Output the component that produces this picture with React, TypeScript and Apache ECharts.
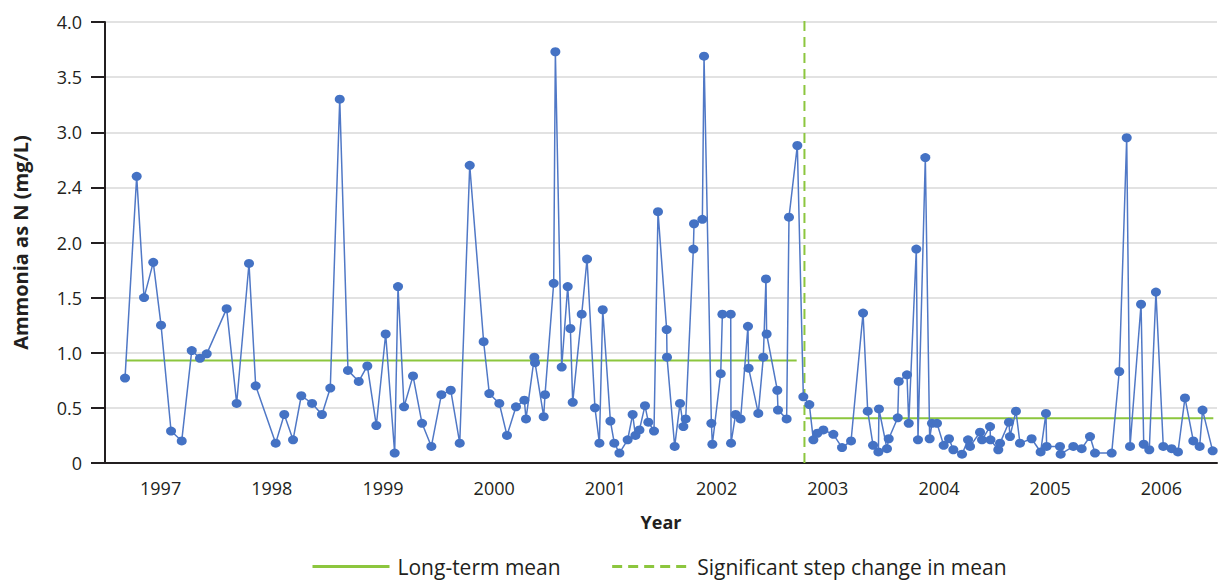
import { useEffect, useRef } from "react";
import * as echarts from "echarts";

// Year bands shown along the bottom axis
const yearLabels = ["1997", "1998", "1999", "2000", "2001", "2002", "2003", "2004", "2005", "2006"];

// Y tick labels as printed on the figure
const yTickLabels = ["0", "0.5", "1.0", "1.5", "2.0", "2.4", "3.0", "3.5", "4.0"];

// Sampling dates (decimal years)
const sampleTimes = [
  1997.18, 1997.285, 1997.351, 1997.434, 1997.504, 1997.594, 1997.69, 1997.78, 1997.854, 1997.915,
  1998.094, 1998.184, 1998.295, 1998.355, 1998.535, 1998.612, 1998.691, 1998.765, 1998.862, 1998.951,
  1999.026, 1999.111, 1999.185, 1999.282, 1999.359, 1999.44, 1999.524, 1999.605, 1999.635, 1999.689,
  1999.77, 1999.851, 1999.935, 2000.025, 2000.109, 2000.19, 2000.28, 2000.405, 2000.456, 2000.546,
  2000.615, 2000.696, 2000.771, 2000.786, 2000.861, 2000.867, 2000.945, 2000.957, 2001.035, 2001.05,
  2001.107, 2001.161, 2001.185, 2001.206, 2001.287, 2001.335, 2001.406, 2001.446, 2001.476, 2001.545,
  2001.58, 2001.626, 2001.7, 2001.745, 2001.77, 2001.806, 2001.856, 2001.886, 2001.937, 2001.973,
  2002.051, 2002.054, 2002.123, 2002.171, 2002.201, 2002.222, 2002.291, 2002.297, 2002.372, 2002.387,
  2002.453, 2002.462, 2002.537, 2002.552, 2002.627, 2002.63, 2002.671, 2002.716, 2002.782, 2002.788,
  2002.875, 2002.92, 2002.944, 2002.95, 2003.046, 2003.052, 2003.13, 2003.151, 2003.226, 2003.28,
  2003.334, 2003.37, 2003.406, 2003.46, 2003.55, 2003.628, 2003.709, 2003.817, 2003.859, 2003.907,
  2003.955, 2003.96, 2004.032, 2004.048, 2004.129, 2004.138, 2004.212, 2004.228, 2004.296, 2004.311,
  2004.377, 2004.416, 2004.437, 2004.482, 2004.542, 2004.59, 2004.629, 2004.707, 2004.761, 2004.779,
  2004.869, 2004.887, 2004.959, 2004.963, 2005.033, 2005.049, 2005.129, 2005.138, 2005.192, 2005.228,
  2005.333, 2005.414, 2005.462, 2005.468, 2005.588, 2005.594, 2005.708, 2005.783, 2005.858, 2005.903,
  2006.053, 2006.121, 2006.188, 2006.218, 2006.317, 2006.341, 2006.391, 2006.451, 2006.517, 2006.592,
  2006.649, 2006.712, 2006.787, 2006.844, 2006.87, 2006.961,
];

// Ammonia as N (mg/L) for each sample
const ammoniaN = [
  0.77, 2.6, 1.5, 1.82, 1.25, 0.29, 0.2, 1.02, 0.95, 0.99,
  1.4, 0.54, 1.81, 0.7, 0.18, 0.44, 0.21, 0.61, 0.54, 0.44,
  0.68, 3.3, 0.84, 0.74, 0.88, 0.34, 1.17, 0.09, 1.6, 0.51,
  0.79, 0.36, 0.15, 0.62, 0.66, 0.18, 2.7, 1.1, 0.63, 0.54,
  0.25, 0.51, 0.57, 0.4, 0.96, 0.91, 0.42, 0.62, 1.63, 3.73,
  0.87, 1.6, 1.22, 0.55, 1.35, 1.85, 0.5, 0.18, 1.39, 0.38,
  0.18, 0.09, 0.21, 0.44, 0.25, 0.3, 0.52, 0.37, 0.29, 2.28,
  1.21, 0.96, 0.15, 0.54, 0.33, 0.4, 1.94, 2.17, 2.21, 3.69,
  0.36, 0.17, 0.81, 1.35, 1.35, 0.18, 0.44, 0.4, 1.24, 0.86,
  0.45, 0.96, 1.67, 1.17, 0.66, 0.48, 0.4, 2.23, 2.88, 0.6,
  0.53, 0.21, 0.27, 0.3, 0.26, 0.14, 0.2, 1.36, 0.47, 0.16,
  0.1, 0.49, 0.13, 0.22, 0.41, 0.74, 0.8, 0.36, 1.94, 0.21,
  2.77, 0.22, 0.36, 0.36, 0.16, 0.22, 0.12, 0.08, 0.21, 0.15,
  0.28, 0.21, 0.33, 0.21, 0.12, 0.18, 0.37, 0.24, 0.47, 0.18,
  0.22, 0.1, 0.45, 0.15, 0.15, 0.08, 0.15, 0.13, 0.24, 0.09,
  0.09, 0.83, 2.95, 0.15, 1.44, 0.17, 0.12, 1.55, 0.15, 0.13,
  0.1, 0.59, 0.2, 0.15, 0.48, 0.11,
];

// Mean level before and after the step change
const meanStarts = [1997.186, 2003.3];
const meanEnds = [2003.22, 2006.967];
const meanLevels = [0.93, 0.405];

// Date of the significant step change
const stepChangeYear = 2003.29;

const TEXT = "#231f20";
const BLUE = "#4472c4";
const GREEN = "#8cc63e";
const FONT = "'Open Sans', 'Noto Sans', sans-serif";

export default function App() {
  const ref = useRef<HTMLDivElement>(null);

  useEffect(() => {
    if (!ref.current) return;
    const chart = echarts.init(ref.current, null, { renderer: "svg" });

    const samples = sampleTimes.map((t, i) => [t, ammoniaN[i]]);
    const meanData: (number | string)[][] = [];
    meanLevels.forEach((m, i) => {
      if (i > 0) meanData.push([meanStarts[i], "-"]);
      meanData.push([meanStarts[i], m], [meanEnds[i], m]);
    });

    chart.setOption({
      animation: false,
      textStyle: { fontFamily: FONT },
      grid: { left: 105, right: 4, top: 22, bottom: 120 },
      legend: {
        data: ["Long-term mean", "Significant step change in mean"],
        left: 306,
        top: 551,
        itemWidth: 77,
        itemHeight: 14,
        itemGap: 50,
        itemStyle: { color: "transparent", borderColor: "transparent", borderWidth: 0, opacity: 0 },
        lineStyle: { width: 3 },
        textStyle: { color: TEXT, fontSize: 21, fontFamily: FONT, padding: [0, 0, 0, 3] },
      },
      xAxis: [
        { type: "value", min: 1997, max: 2007, show: false },
        {
          type: "category",
          data: yearLabels,
          position: "bottom",
          boundaryGap: true,
          axisLine: { lineStyle: { color: TEXT, width: 2 } },
          axisTick: { length: 10, lineStyle: { color: TEXT, width: 2 } },
          axisLabel: { color: TEXT, fontSize: 18, fontFamily: FONT, margin: 16 },
          splitLine: { show: false },
          name: "Year",
          nameLocation: "middle",
          nameGap: 50,
          nameTextStyle: { color: TEXT, fontSize: 18, fontWeight: "bold", fontFamily: FONT },
        },
      ],
      yAxis: {
        type: "value",
        min: 0,
        max: 4,
        interval: 0.5,
        axisLine: { show: true, lineStyle: { color: TEXT, width: 2 } },
        axisTick: { show: true, length: 14, lineStyle: { color: TEXT, width: 2 } },
        axisLabel: {
          color: TEXT,
          fontSize: 18,
          fontFamily: FONT,
          margin: 23,
          formatter: (v: number) => yTickLabels[Math.round(v / 0.5)],
        },
        splitLine: { lineStyle: { color: "#d9d9d9", width: 1.5 } },
        name: "Ammonia as N (mg/L)",
        nameLocation: "middle",
        nameGap: 75,
        nameTextStyle: { color: TEXT, fontSize: 20, fontWeight: "bold", fontFamily: FONT },
      },
      series: [
        {
          name: "Long-term mean",
          type: "line",
          xAxisIndex: 0,
          data: meanData,
          symbol: "none",
          connectNulls: false,
          lineStyle: { color: GREEN, width: 2 },
          itemStyle: { color: GREEN },
          z: 2,
        },
        {
          name: "Significant step change in mean",
          type: "line",
          xAxisIndex: 0,
          data: [
            [stepChangeYear, 0],
            [stepChangeYear, 4.05],
          ],
          symbol: "none",
          clip: false,
          lineStyle: { color: GREEN, width: 2, type: [10, 6] },
          itemStyle: { color: GREEN },
          z: 2,
        },
        {
          name: "Ammonia as N",
          type: "line",
          xAxisIndex: 0,
          data: samples,
          symbol: "circle",
          symbolSize: [10, 9],
          showSymbol: true,
          lineStyle: { color: "#5078c6", width: 1.5 },
          itemStyle: { color: BLUE },
          z: 3,
        },
      ],
    });

    return () => chart.dispose();
  }, []);

  return (
    <div
      ref={ref}
      style={{ position: "absolute", left: 0, top: 0, width: 1221, height: 583, background: "#fff" }}
    />
  );
}
